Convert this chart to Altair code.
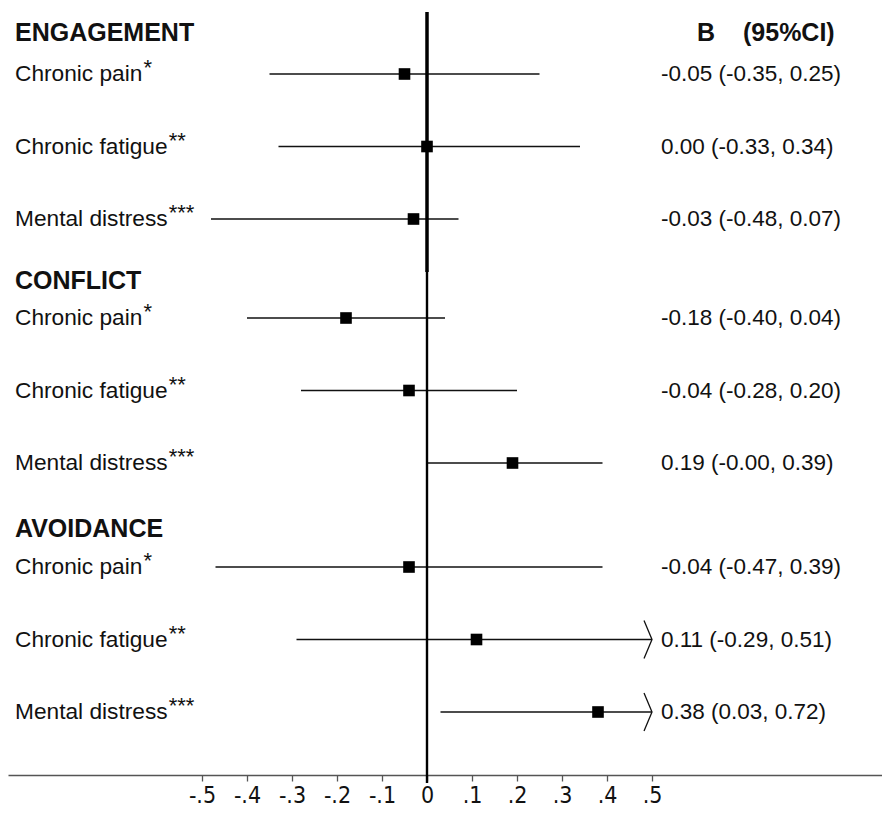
import altair as alt
import pandas as pd

# ---------------- data ----------------
groups = ["ENGAGEMENT", "CONFLICT", "AVOIDANCE"]
outcomes = ["Chronic pain", "Chronic fatigue", "Mental distress"]
stars = ["*", "**", "***"]
b_vals = [-0.05, 0.00, -0.03, -0.18, -0.04, 0.19, -0.04, 0.11, 0.38]
ci_low = [-0.35, -0.33, -0.48, -0.40, -0.28, -0.00, -0.47, -0.29, 0.03]
ci_high = [0.25, 0.34, 0.07, 0.04, 0.20, 0.39, 0.39, 0.51, 0.72]
ci_text = [
    "-0.05 (-0.35, 0.25)", "0.00 (-0.33, 0.34)", "-0.03 (-0.48, 0.07)",
    "-0.18 (-0.40, 0.04)", "-0.04 (-0.28, 0.20)", "0.19 (-0.00, 0.39)",
    "-0.04 (-0.47, 0.39)", "0.11 (-0.29, 0.51)", "0.38 (0.03, 0.72)",
]
tick_values = [-0.5, -0.4, -0.3, -0.2, -0.1, 0.0, 0.1, 0.2, 0.3, 0.4, 0.5]
x_clip = 0.5  # intervals beyond this end in an arrow

# ---------------- layout ----------------
W, H = 874, 767
X_DOMAIN = [-419 / 450, 455 / 450]
GROUP_TOP = [66, 310, 559]
ROW_STEP = 72.5
HEADER_Y = [25, 273, 521]
LABEL_X = 7
LABEL_FS = 22.7
STAR_FS = 22
HEAD_FS = 25
CI_FS = 22.5
FONT = "Liberation Sans, Arial, Helvetica, sans-serif"
NARROW = "Liberation Sans Narrow, Arial Narrow, DejaVu Sans Condensed, Liberation Sans, sans-serif"
INK = "#111111"

ARIAL_W = {"C": 722, "h": 556, "r": 333, "o": 556, "n": 556, "i": 222, "c": 500,
           " ": 278, "p": 556, "a": 556, "f": 278, "t": 278, "g": 556, "u": 556,
           "e": 556, "M": 833, "l": 222, "d": 556, "s": 500}


def text_width(s, size):
    return sum(ARIAL_W.get(ch, 556) for ch in s) * size / 1000.0


rows = []
for g, grp in enumerate(groups):
    for i, out in enumerate(outcomes):
        k = g * 3 + i
        rows.append({
            "group": grp,
            "outcome": out,
            "stars": stars[i],
            "b": b_vals[k],
            "lo": ci_low[k],
            "hi": ci_high[k],
            "hi_draw": min(ci_high[k], x_clip),
            "arrow": ci_high[k] > x_clip,
            "ci": ci_text[k],
            "ypx": GROUP_TOP[g] + i * ROW_STEP,
            "star_x": LABEL_X + text_width(out, LABEL_FS) + 1,
        })
df = pd.DataFrame(rows)
heads = pd.DataFrame({"group": groups, "ypx": HEADER_Y})

xscale = alt.Scale(domain=X_DOMAIN, nice=False, zero=False)
label_expr = ("datum.value == 0 ? '0' : (datum.value < 0 ? '-.' : '.') + "
              "toString(round(abs(datum.value) * 10))")


def xq(field):
    return alt.X(field, type="quantitative", scale=xscale, title=None)


base = alt.Chart(df)

ci_rules = base.mark_rule(color=INK, strokeWidth=1.4).encode(
    x=alt.X("lo:Q", scale=xscale, title=None,
            axis=alt.Axis(values=tick_values, labelExpr=label_expr, grid=False,
                          domainColor="#555555", domainWidth=1.6,
                          tickColor="#555555", tickSize=6, tickWidth=1.3,
                          labelFont=NARROW, labelFontSize=23, labelColor=INK,
                          labelBaseline="top", labelPadding=3,
                          labelFlush=False, labelOverlap=False)),
    x2="hi_draw:Q",
    y=alt.Y("ypx:Q", scale=None, axis=None),
)

zero_df = pd.DataFrame({"v": [0]})
zero_top = alt.Chart(zero_df).mark_rule(color="#000000", strokeWidth=3.5).encode(
    x=xq("v"), y=alt.value(4), y2=alt.value(264))
zero_bottom = alt.Chart(zero_df).mark_rule(color="#000000", strokeWidth=2.4).encode(
    x=xq("v"), y=alt.value(262), y2=alt.value(H + 8))

squares = base.mark_square(size=135, color="#000000", opacity=1).encode(
    x=xq("b"), y=alt.Y("ypx:Q", scale=None, axis=None))

arrows = base.transform_filter("datum.arrow").mark_point(
    shape="M -0.42 -1 L 0 0 L -0.42 1", size=1444, filled=False,
    color=INK, strokeWidth=1.3, opacity=1).encode(
    x=xq("hi_draw"), y=alt.Y("ypx:Q", scale=None, axis=None))

labels = base.mark_text(align="left", baseline="middle", font=FONT,
                        fontSize=LABEL_FS, color=INK).encode(
    x=alt.value(LABEL_X), y=alt.Y("ypx:Q", scale=None, axis=None), text="outcome:N")

star_text = base.mark_text(align="left", baseline="middle", font=FONT,
                           fontSize=STAR_FS, color=INK, dy=-6).encode(
    x=alt.X("star_x:Q", scale=None, axis=None),
    y=alt.Y("ypx:Q", scale=None, axis=None), text="stars:N")

ci_labels = base.mark_text(align="left", baseline="middle", font=FONT,
                           fontSize=CI_FS, color=INK).encode(
    x=alt.value(653), y=alt.Y("ypx:Q", scale=None, axis=None), text="ci:N")

head_text = alt.Chart(heads).mark_text(align="left", baseline="middle", font=FONT,
                                       fontSize=HEAD_FS, fontWeight="bold",
                                       color=INK).encode(
    x=alt.value(LABEL_X), y=alt.Y("ypx:Q", scale=None, axis=None), text="group:N")

col_head = alt.Chart(pd.DataFrame({"t": ["B", "(95%CI)"], "xp": [689, 735]})).mark_text(
    align="left", baseline="middle", font=FONT, fontSize=HEAD_FS,
    fontWeight="bold", color=INK).encode(
    x=alt.X("xp:Q", scale=None, axis=None), y=alt.value(HEADER_Y[0]), text="t:N")

chart = alt.layer(
    ci_rules, zero_bottom, zero_top, squares, arrows,
    labels, star_text, ci_labels, head_text, col_head,
).properties(
    width=W, height=H,
    padding={"left": 0, "top": 0, "right": 0, "bottom": 33},
    autosize=alt.AutoSizeParams(type="none"),
    background="white",
).configure_view(stroke=None)

chart.save("out.html", embed_options={"renderer": "svg", "actions": False})
